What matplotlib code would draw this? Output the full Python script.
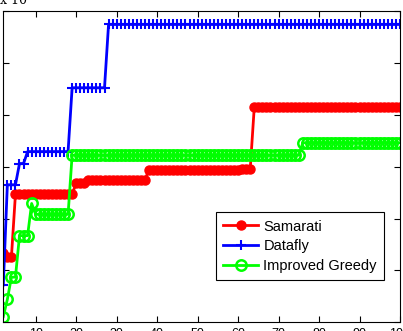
import matplotlib
matplotlib.use("Agg")
import matplotlib.pyplot as plt
import numpy as np

plt.rcParams['font.family'] = ['Liberation Sans', 'DejaVu Sans']

# x runs 2..100, each series is a step curve: (value, run length)
x = np.arange(2, 101)

samarati_vals = [1.33, 1.25, 2.47, 2.68, 2.75, 2.94, 2.96, 4.15]
samarati_runs = [1, 2, 15, 3, 15, 23, 3, 37]

datafly_vals = [0.72, 2.65, 3.06, 3.29, 4.52, 5.74]
datafly_runs = [1, 3, 2, 11, 9, 73]

greedy_vals = [0.11, 0.44, 0.87, 1.67, 2.29, 2.08, 3.22, 3.46]
greedy_runs = [1, 1, 2, 3, 1, 9, 57, 25]

xticks = [10, 20, 30, 40, 50, 60, 70, 80, 90, 100]
yticks = [0, 1, 2, 3, 4, 5, 6]

samarati = np.repeat(samarati_vals, samarati_runs)
datafly = np.repeat(datafly_vals, datafly_runs)
greedy = np.repeat(greedy_vals, greedy_runs)

fig = plt.figure(figsize=(4.03, 3.31), dpi=100, facecolor="w")
ax = fig.add_axes([0.0082, 0.0263, 0.9844, 0.9405])

ax.plot(x, samarati, color='#ff0000', lw=2, marker='o', ms=6.5,
        mfc='#ff0000', mec='#ff0000', label='Samarati')
ax.plot(x, datafly, color='#0000ff', lw=2, marker='+', ms=7, mew=1.5,
        label='Datafly')
ax.plot(x, greedy, color='#00ff00', lw=2, marker='o', ms=7.5, mew=1.8,
        mfc='none', mec='#00ff00', label='Improved Greedy')

ax.set_xlim(2, 100)
ax.set_ylim(0, 6)
ax.set_xticks(xticks)
ax.set_yticks(yticks)
ax.tick_params(direction='in', length=4, top=True, right=True,
               labelsize=9, pad=4)
for s in ax.spines.values():
    s.set_linewidth(0.8)

leg = ax.legend(loc='lower right', bbox_to_anchor=(0.96, 0.136),
                fontsize=10.5, fancybox=False, framealpha=1,
                edgecolor='black', handlelength=2.4, handletextpad=0.35,
                borderpad=0.5, labelspacing=0.38, borderaxespad=0)
leg.get_frame().set_linewidth(0.8)

fig.text(0.0, 1.0, 'x 10', fontsize=9, ha='left', va='center',
         family='DejaVu Serif')

fig.savefig('out.png', dpi=100)
